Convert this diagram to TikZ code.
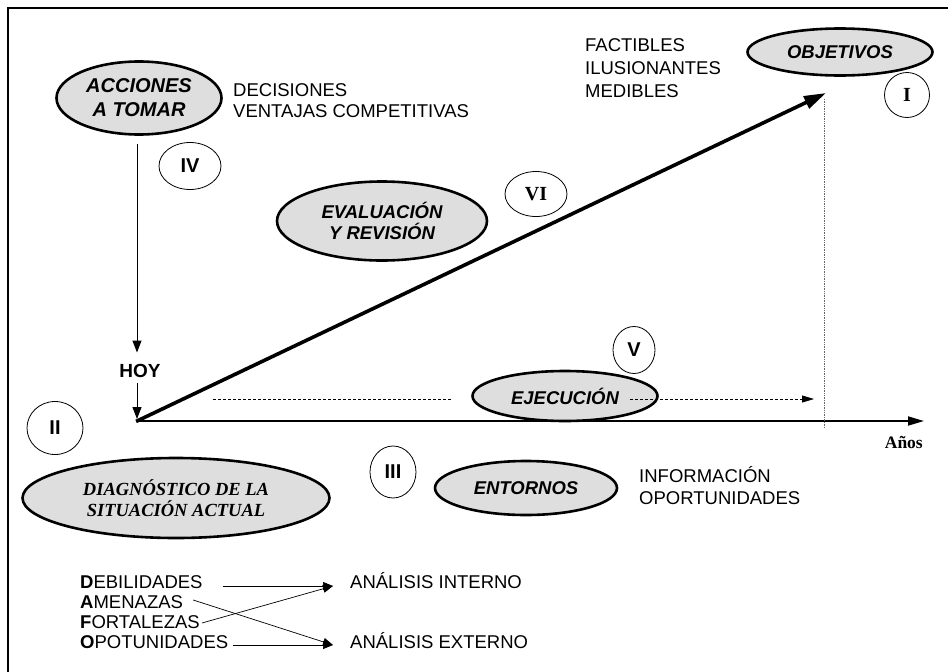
\documentclass[tikz,border=0pt]{standalone}
\usepackage{fontspec}
\setmainfont{Liberation Sans}
\newfontfamily\tnr{Liberation Serif}
\usetikzlibrary{shapes.geometric,arrows.meta}
\begin{document}
\begin{tikzpicture}[x=1pt,y=-1pt,
  oval/.style={ellipse, draw, line width=2.6pt, fill=black!13, inner sep=0pt, align=center,
     font=\fontsize{18.5}{21}\selectfont\bfseries\itshape},
  numcirc/.style={ellipse, draw, line width=0.8pt, inner sep=0pt, font=\fontsize{20}{22}\selectfont\bfseries},
  txt/.style={anchor=base west, inner sep=0pt, font=\fontsize{18.5}{22}\selectfont},
  thinarrow/.style={line width=0.7pt, -{Triangle[length=10pt,width=8pt]}},
  midarrow/.style={line width=1pt, -{Triangle[length=12pt,width=9pt]}},
  bigarrow/.style={line width=3.6pt, -{Triangle[length=22pt,width=13pt]}},
]
\useasboundingbox (0,0) rectangle (948,672);
% frame
\draw[line width=1.6pt] (8,672) -- (8,8) -- (948,8);

% key coordinates
\coordinate (origin) at (137,421);
\coordinate (objtip) at (826,93);
\coordinate (axisend) at (924,421);
\coordinate (dstart) at (213,399);
\coordinate (dend) at (814,399);

% ovals
\node[oval, minimum width=165pt, minimum height=73pt, font=\fontsize{20}{24}\selectfont\bfseries\itshape] (acc) at (139,98) {ACCIONES\\A TOMAR};
\node[oval, minimum width=185pt, minimum height=47pt] (obj) at (840,52) {OBJETIVOS};
\node[oval, minimum width=210pt, minimum height=79pt] (eva) at (382,221) {EVALUACIÓN\\Y REVISIÓN};
\node[oval, minimum width=185pt, minimum height=50pt] (eje) at (565,396) {EJECUCIÓN};
\node[oval, minimum width=182pt, minimum height=54pt] (ent) at (526,488) {ENTORNOS};
\node[oval, minimum width=307pt, minimum height=80pt, font=\tnr\fontsize{18.5}{20.5}\selectfont\bfseries\itshape] (dia) at (176,498) {DIAGNÓSTICO DE LA\\SITUACIÓN ACTUAL};

% numbered circles
\node[numcirc, minimum width=45pt, minimum height=45pt, font=\tnr\fontsize{20}{22}\selectfont\bfseries] (c1) at (907,95) {I};
\node[numcirc, minimum width=56pt, minimum height=53pt] (c2) at (55,428) {II};
\node[numcirc, minimum width=46pt, minimum height=52pt] (c3) at (393,472) {III};
\node[numcirc, minimum width=62pt, minimum height=47pt] (c4) at (190,166) {IV};
\node[numcirc, minimum width=42pt, minimum height=47pt] (c5) at (634,350) {V};
\node[numcirc, minimum width=62pt, minimum height=45pt, font=\tnr\fontsize{20}{22}\selectfont\bfseries] (c6) at (536,194) {VI};

% plain texts
\node[txt] (dec1) at (233,96) {DECISIONES};
\node[txt] (dec2) at (233,117) {VENTAJAS COMPETITIVAS};
\node[txt] (fac1) at (585,51) {FACTIBLES};
\node[txt] (fac2) at (585,74) {ILUSIONANTES};
\node[txt] (fac3) at (585,97) {MEDIBLES};
\node[txt] (inf1) at (639,482) {INFORMACIÓN};
\node[txt] (inf2) at (639,504) {OPORTUNIDADES};
\node[txt, anchor=base, font=\fontsize{19}{22}\selectfont\bfseries] (hoy) at (140,377) {HOY};
\node[txt, anchor=base east, font=\tnr\fontsize{17.5}{19}\selectfont\bfseries] (anos) at (923,448) {Años};

% DAFO
\node[txt] (deb) at (80,588) {\textbf{D}EBILIDADES};
\node[txt] (ame) at (80,608) {\textbf{A}MENAZAS};
\node[txt] (fort) at (80,628) {\textbf{F}ORTALEZAS};
\node[txt] (opo) at (80,648) {\textbf{O}POTUNIDADES};
\node[txt] (ai) at (350,588) {ANÁLISIS INTERNO};
\node[txt] (ae) at (350,648) {ANÁLISIS EXTERNO};

% connectors
\draw[midarrow] ([yshift=-8pt]acc.south -| origin) -- ([yshift=11pt]hoy.north -| origin);
\draw[midarrow] ([yshift=-6pt]hoy.south -| origin) -- ([yshift=2pt]origin);
\draw[line width=1.8pt, -{Triangle[length=16pt,width=9pt]}] (origin) -- (axisend);
\draw[bigarrow, shorten <=-1pt] (origin) -- (objtip);
\draw[black!60, line width=0.7pt, densely dotted] ([yshift=-6pt]objtip -| 824,0) -- ([yshift=-7pt]axisend -| 824,0);
\draw[line width=0.8pt, densely dashed, shorten >=19pt] (dstart) -- (dstart -| eje.west);
\draw[line width=0.8pt, densely dashed, -{Triangle[length=12pt,width=7pt]}] ([xshift=-29pt]dend -| eje.east) -- (dend);

\draw[thinarrow] ([shift={(20pt,2pt)}]deb.base east) -- ([shift={(-17pt,2pt)}]ai.base west);
\draw[thinarrow] ([shift={(10pt,8pt)}]ame.base east) -- ([shift={(-17pt,3pt)}]ae.base west);
\draw[thinarrow] ([shift={(2pt,5pt)}]fort.base east) -- ([shift={(-17pt,2pt)}]ai.base west);
\draw[thinarrow] ([shift={(5pt,3pt)}]opo.base east) -- ([shift={(-17pt,3pt)}]ae.base west);
\end{tikzpicture}
\end{document}
